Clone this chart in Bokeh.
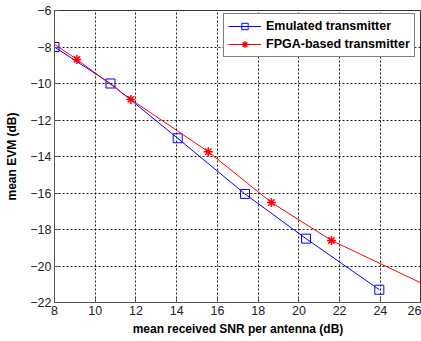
from bokeh.plotting import figure
from bokeh.models import Range1d, FixedTicker, Legend, LegendItem
from bokeh.embed import file_html
from bokeh.resources import INLINE

# Data
emu_snr = [8.0, 10.75, 14.05, 17.35, 20.35, 23.95]
emu_evm = [-8.0, -10.0, -13.0, -16.05, -18.5, -21.3]

fpga_snr = [9.1, 11.75, 15.55, 18.65, 21.6]
fpga_evm = [-8.68, -10.87, -13.74, -16.52, -18.6]

# red line continues past the markers at both ends of the axes
fpga_line_snr = [8.0, 9.1, 11.75, 15.55, 18.65, 21.6, 26.0]
fpga_line_evm = [-7.85, -8.68, -10.87, -13.74, -16.52, -18.6, -20.93]

x_ticks = [8, 10, 12, 14, 16, 18, 20, 22, 24, 26]
y_ticks = [-22, -20, -18, -16, -14, -12, -10, -8, -6]

p = figure(width=421, height=341, output_backend="svg", toolbar_location=None,
           x_range=Range1d(8, 26.02), y_range=Range1d(-22, -6),
           min_border_left=54, min_border_right=0, min_border_top=10,
           min_border_bottom=39)

p.background_fill_color = "white"
p.border_fill_color = "white"
p.outline_line_color = "#333333"
p.outline_line_width = 1

p.xgrid.grid_line_color = "black"
p.ygrid.grid_line_color = "black"
p.xgrid.grid_line_dash = "2 2"
p.ygrid.grid_line_dash = "2 2"
p.xgrid.grid_line_alpha = 0.9
p.ygrid.grid_line_alpha = 0.9

p.xaxis.ticker = FixedTicker(ticks=x_ticks)
p.yaxis.ticker = FixedTicker(ticks=y_ticks)

for ax in (p.xaxis[0], p.yaxis[0]):
    ax.axis_line_color = "#555555"
    ax.major_tick_in = 4
    ax.major_tick_out = 0
    ax.minor_tick_line_color = None
    ax.major_tick_line_color = "#555555"
    ax.major_label_text_font = "Liberation Sans"
    ax.major_label_text_font_size = "12.5px"
    ax.major_label_text_color = "#222222"
    ax.major_label_standoff = 3
    ax.axis_label_text_font = "Liberation Sans"
    ax.axis_label_text_font_size = "12px"
    ax.axis_label_text_font_style = "bold"
    ax.axis_label_text_color = "black"

p.xaxis.axis_label = "mean received SNR per antenna (dB)"
p.yaxis.axis_label = "mean EVM (dB)"
p.xaxis.axis_label_standoff = 4
p.yaxis.axis_label_standoff = 8

bl = p.line(emu_snr, emu_evm, line_color="blue", line_width=1)
bm = p.scatter(emu_snr, emu_evm, marker="square", size=9, fill_color=None,
               line_color="blue", line_width=1)

rl = p.line(fpga_line_snr, fpga_line_evm, line_color="red", line_width=1)
rm = p.scatter(fpga_snr, fpga_evm, marker="asterisk", size=9,
               line_color="red", line_width=1.5)

legend = Legend(items=[
    LegendItem(label="Emulated transmitter", renderers=[bl, bm]),
    LegendItem(label="FPGA-based transmitter", renderers=[rl, rm]),
], location=(169, 245))
legend.label_text_font = "Liberation Sans"
legend.label_text_font_size = "12.5px"
legend.label_text_font_style = "bold"
legend.label_text_color = "black"
legend.border_line_color = "black"
legend.border_line_width = 1
legend.background_fill_color = "white"
legend.background_fill_alpha = 1
legend.padding = 4
legend.spacing = 2
legend.margin = 0
legend.glyph_width = 33
legend.glyph_height = 16
legend.label_height = 16
legend.label_standoff = 5
p.add_layout(legend, "center")

open("out.html", "w").write(file_html(p, INLINE))
